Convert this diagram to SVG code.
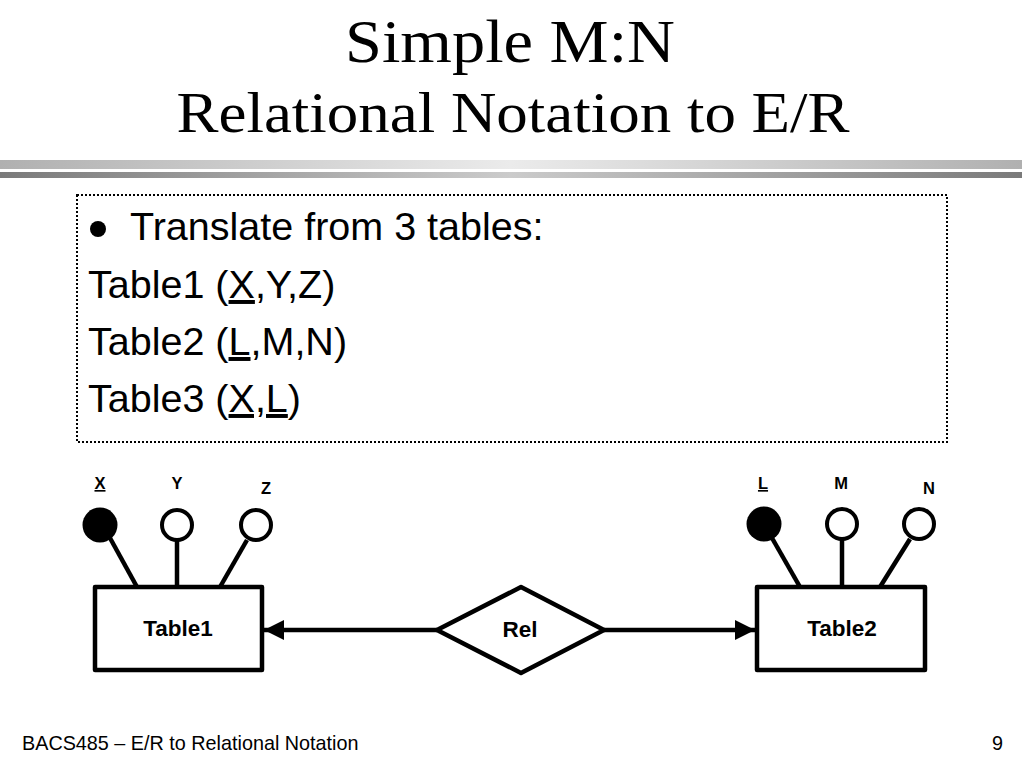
<svg xmlns="http://www.w3.org/2000/svg" width="1024" height="768" viewBox="0 0 1024 768">
<style>
.title{font-family:"Liberation Serif","Times New Roman",serif;fill:#000;text-anchor:middle}
.body{font-family:"Liberation Sans",Arial,sans-serif;font-size:39.5px;fill:#000}
.lbl{font-family:"Liberation Sans",Arial,sans-serif;font-weight:bold;font-size:16.5px;fill:#000;text-anchor:middle}
.nm{font-family:"Liberation Sans",Arial,sans-serif;font-weight:bold;font-size:22.5px;fill:#000;text-anchor:middle}
.foot{font-family:"Liberation Sans",Arial,sans-serif;font-size:19.8px;fill:#000}
.ent{fill:#fff;stroke:#000;stroke-width:4.5;stroke-linejoin:round}
.stem{stroke:#000;stroke-width:4.5;fill:none}
.key{fill:#000}
.att{fill:#fff;stroke:#000;stroke-width:4}
.conn{stroke:#000;stroke-width:4.5;fill:none}
.u{text-decoration:underline}
</style>
<defs>
<linearGradient id="g1" x1="0" y1="0" x2="1" y2="0">
<stop offset="0" stop-color="#b0b0b0"/>
<stop offset="0.5" stop-color="#ebebeb"/>
<stop offset="1" stop-color="#b0b0b0"/>
</linearGradient>
<linearGradient id="g2" x1="0" y1="0" x2="1" y2="0">
<stop offset="0" stop-color="#7a7a7a"/>
<stop offset="0.5" stop-color="#cbcbcb"/>
<stop offset="1" stop-color="#7a7a7a"/>
</linearGradient>
<marker id="ah" viewBox="0 0 20 20" refX="20" refY="10" markerWidth="20" markerHeight="20" markerUnits="userSpaceOnUse" orient="auto">
<path d="M0,0 L20,10 L0,20 Z" fill="#000"/>
</marker>
</defs>
<rect width="1024" height="768" fill="#fff"/>

<g id="title">
<text class="title" x="510" y="62" font-size="62" textLength="330" lengthAdjust="spacingAndGlyphs">Simple M:N</text>
<text class="title" x="513" y="132" font-size="57" textLength="673" lengthAdjust="spacingAndGlyphs">Relational Notation to E/R</text>
</g>

<g id="separator">
<rect x="0" y="160" width="1022" height="9" fill="url(#g1)"/>
<rect x="0" y="172" width="1022" height="6" fill="url(#g2)"/>
</g>

<g id="textbox">
<rect x="77" y="195" width="870" height="247" fill="none" stroke="#000" stroke-width="2" stroke-dasharray="2,2"/>
<circle cx="98" cy="229" r="8" fill="#000"/>
<text class="body" x="130" y="240">Translate from 3 tables:</text>
<text class="body" x="88" y="298">Table1 (<tspan class="u">X</tspan>,Y,Z)</text>
<text class="body" x="88" y="355">Table2 (<tspan class="u">L</tspan>,M,N)</text>
<text class="body" x="88" y="412">Table3 (<tspan class="u">X,L</tspan>)</text>
</g>

<g id="connectors">
<line class="conn" x1="437" y1="630" x2="264" y2="630" marker-end="url(#ah)"/>
<line class="conn" x1="604" y1="630" x2="755" y2="630" marker-end="url(#ah)"/>
</g>

<g id="table1">
<line class="stem" x1="110" y1="538" x2="137" y2="587"/>
<line class="stem" x1="177" y1="540" x2="177" y2="587"/>
<line class="stem" x1="247" y1="540" x2="220" y2="587"/>
<circle class="key" cx="100" cy="525" r="17.5"/>
<circle class="att" cx="177" cy="525" r="15"/>
<circle class="att" cx="256" cy="525" r="15"/>
<text class="lbl u" x="100" y="489">X</text>
<text class="lbl" x="177" y="489">Y</text>
<text class="lbl" x="266" y="494">Z</text>
<rect class="ent" x="95" y="587" width="167" height="83"/>
<text class="nm" x="178" y="636">Table1</text>
</g>

<g id="rel">
<polygon class="ent" points="437,630 521,587 604,630 521,673"/>
<text class="nm" x="520" y="637">Rel</text>
</g>

<g id="table2">
<line class="stem" x1="772" y1="538" x2="800" y2="587"/>
<line class="stem" x1="842" y1="540" x2="842" y2="587"/>
<line class="stem" x1="910" y1="539" x2="880" y2="587"/>
<circle class="key" cx="764" cy="524" r="17.5"/>
<circle class="att" cx="842" cy="524" r="15"/>
<circle class="att" cx="919" cy="524" r="15"/>
<text class="lbl u" x="763" y="489">L</text>
<text class="lbl" x="841" y="489">M</text>
<text class="lbl" x="929" y="494">N</text>
<rect class="ent" x="757" y="587" width="168" height="83"/>
<text class="nm" x="842" y="636">Table2</text>
</g>

<g id="footer">
<text class="foot" x="22" y="750">BACS485 – E/R to Relational Notation</text>
<text class="foot" x="1003" y="750" text-anchor="end">9</text>
</g>
</svg>
